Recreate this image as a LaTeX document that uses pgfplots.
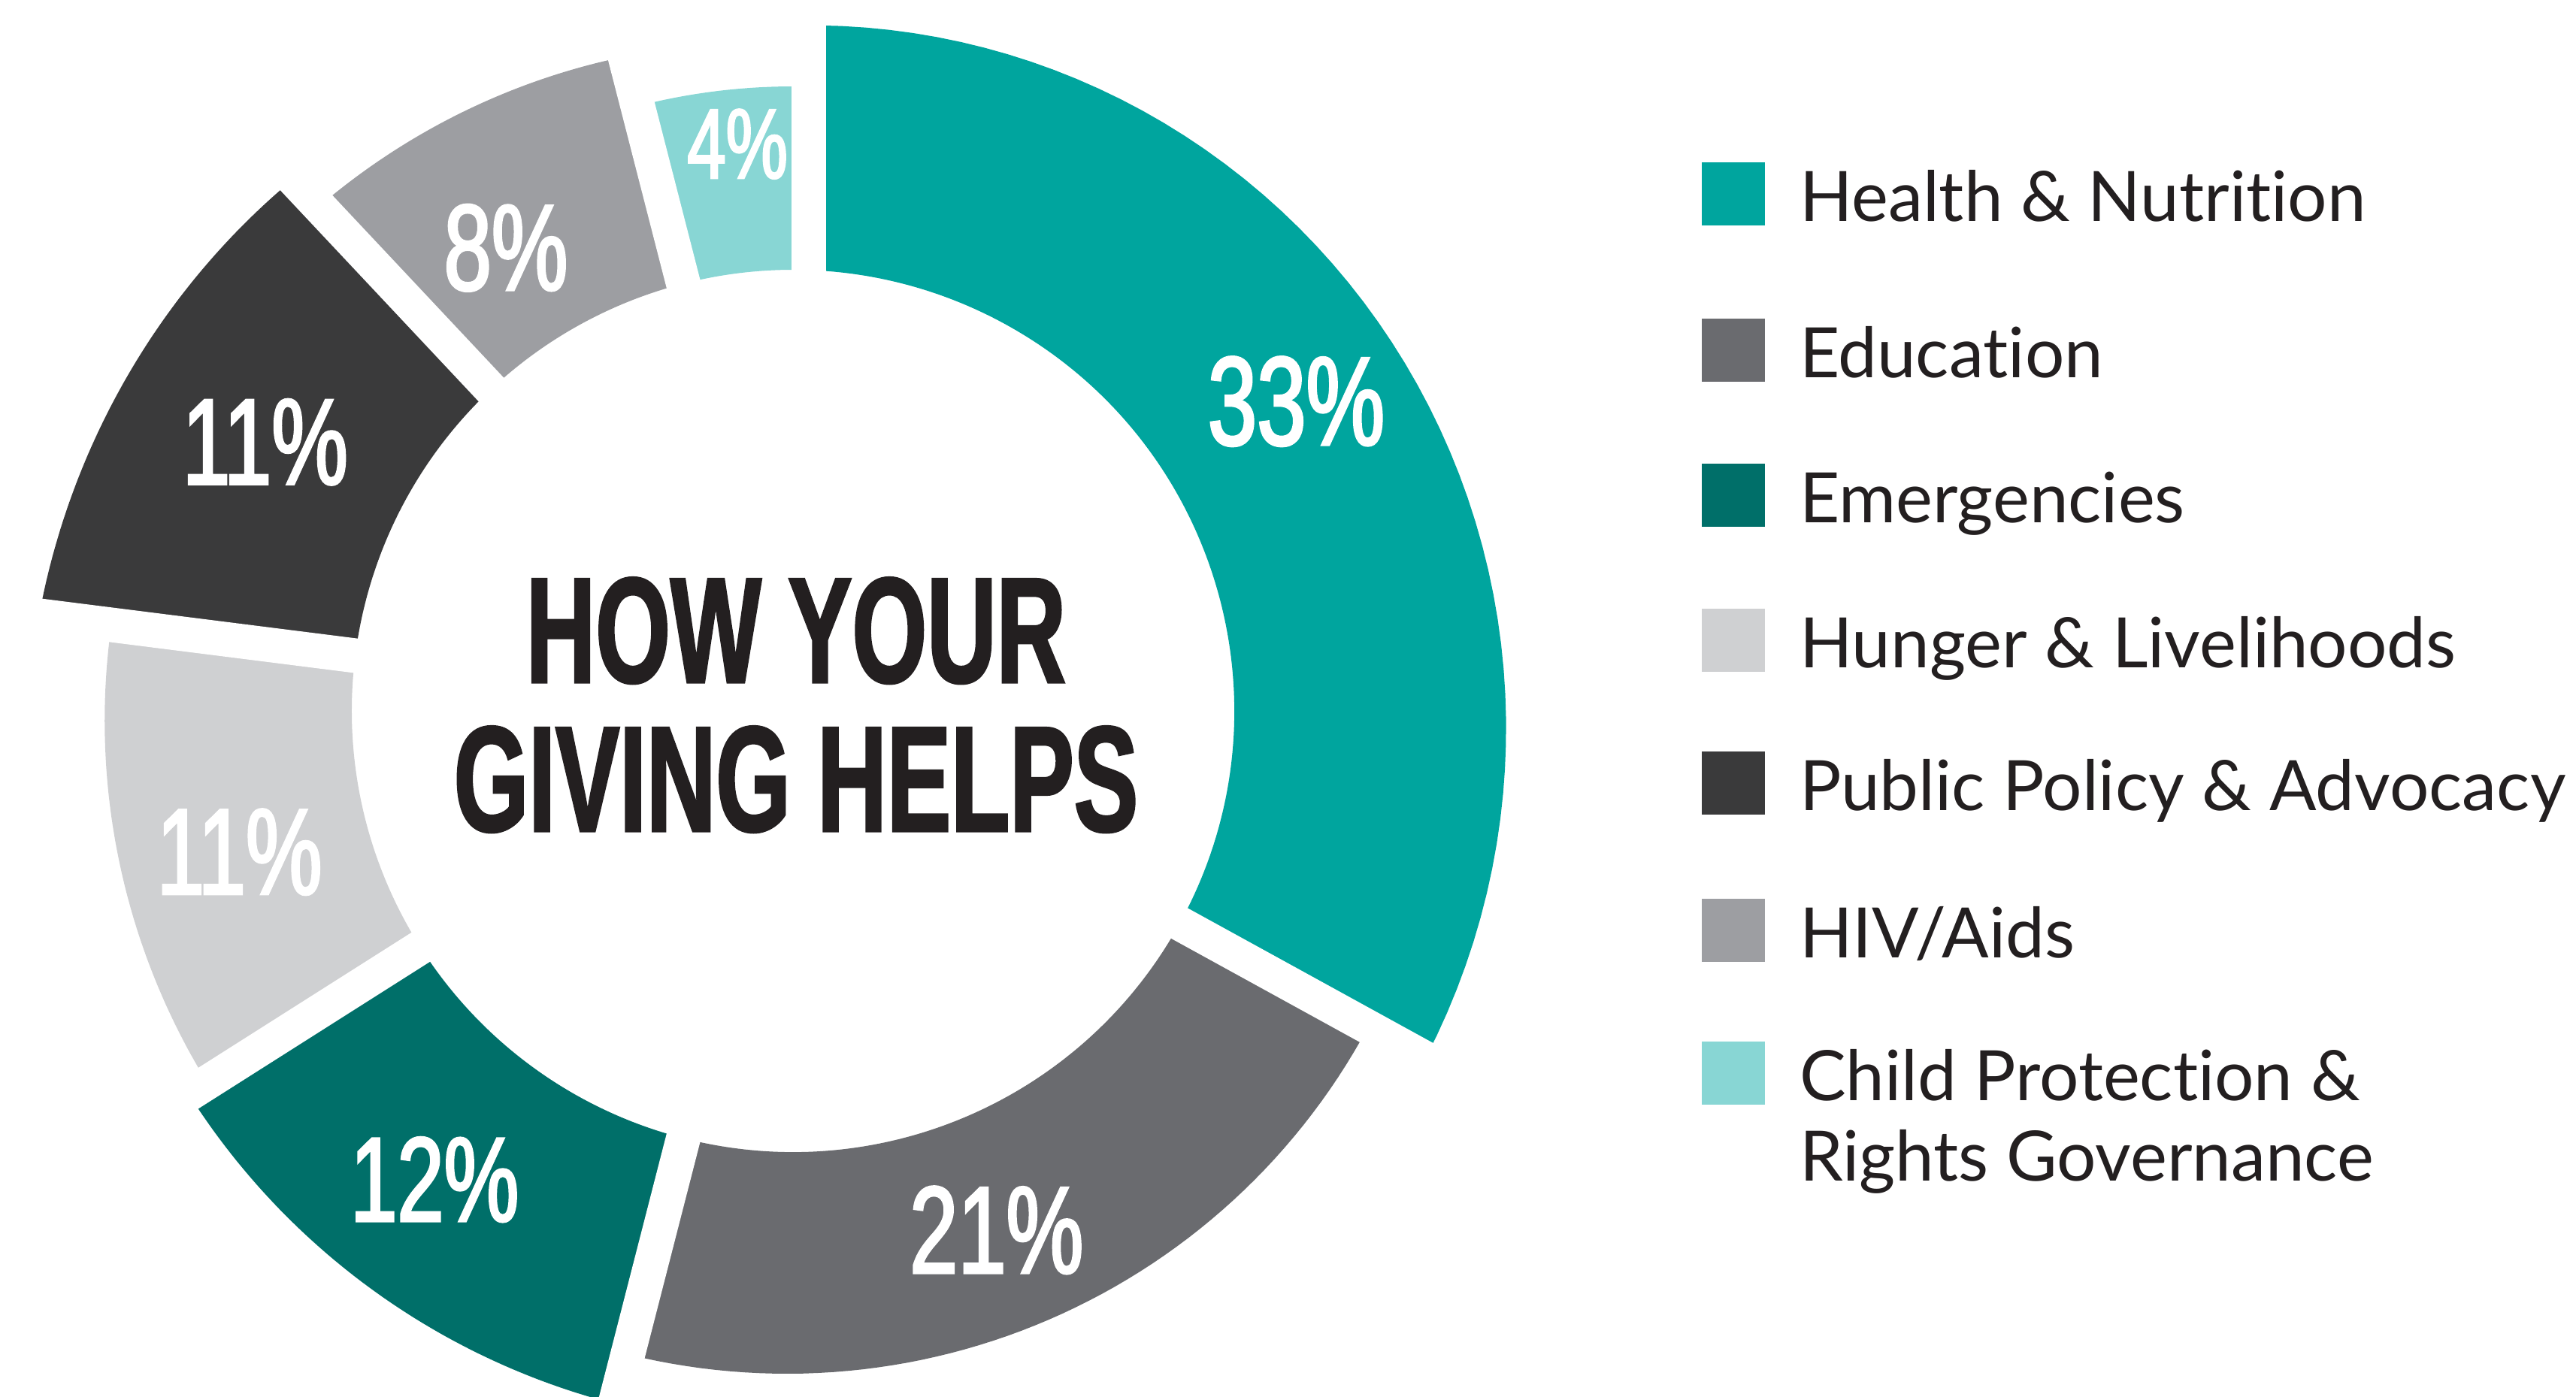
\documentclass[border=0pt]{standalone}
\usepackage{fontspec}
\usepackage{pgfplots}
\pgfplotsset{compat=1.18}
\usepackage{pgfplotstable}
\setmainfont[Ligatures=NoCommon]{Lato}
\newfontfamily\titlefont[FakeStretch=0.64,BoldFeatures={FakeBold=1.5}]{Liberation Sans}
\newfontfamily\pctfont[FakeStretch=0.70,FakeBold=2]{Liberation Sans}

\definecolor{cHealth}{HTML}{00A59E}
\definecolor{cEdu}{HTML}{6A6B6F}
\definecolor{cEmerg}{HTML}{006F69}
\definecolor{cHunger}{HTML}{CFD0D2}
\definecolor{cPolicy}{HTML}{3A3A3B}
\definecolor{cHIV}{HTML}{9D9EA2}
\definecolor{cChild}{HTML}{88D6D4}
\definecolor{ink}{HTML}{231F20}

% share (%), colour, outer radius at start / end of the segment (px),
% label radius (px), label angle offset (deg), label size (pt)
\pgfplotstableread{
value col rstart rend lrad ldel lsize
33 cHealth 912 960 786 1.0 16.8
21 cEdu 873 884 742 -2.0 16.5
12 cEmerg 952 952 785 -1.4 16.0
11 cHunger 923 914 760 1.7 16.3
11 cPolicy 1011 971 788 0.0 16.3
8 cHIV 921 899 725 3.0 16.3
4 cChild 831 831 758 -1.6 13.2
}\donut

\begin{document}
\begin{tikzpicture}
\useasboundingbox (0,0) rectangle (342.7pt,185.8pt);
\begin{axis}[at={(0pt,0pt)}, anchor=south west, scale only axis,
  width=342.7pt, height=185.8pt, xmin=0, xmax=3427, ymin=0, ymax=1858,
  enlargelimits=false, hide axis, clip=false]
\pgfplotsextra{%
 \begin{scope}[shift={(axis cs:1055,912)}, x=0.1pt, y=0.1pt]
  \pgfplotstablegetrowsof{\donut}\pgfmathtruncatemacro{\lastrow}{\pgfplotsretval-1}%
  \gdef\cum{0}%
  \foreach \i in {0,...,\lastrow}{%
    \pgfplotstablegetelem{\i}{value}\of{\donut}\let\segval\pgfplotsretval
    \pgfplotstablegetelem{\i}{col}\of{\donut}\let\segcol\pgfplotsretval
    \pgfplotstablegetelem{\i}{rstart}\of{\donut}\let\rA\pgfplotsretval
    \pgfplotstablegetelem{\i}{rend}\of{\donut}\let\rB\pgfplotsretval
    \pgfmathsetmacro{\aS}{90-3.6*\cum}%
    \pgfmathsetmacro{\aE}{90-3.6*(\cum+\segval)}%
    \fill[\segcol] (\aS:587) -- plot[domain=\aS:\aE, samples=60, variable=\ang]
      (\ang:{\rA+(\rB-\rA)*(\ang-\aS)/(\aE-\aS)}) -- (\aE:587)
      arc[start angle=\aE, end angle=\aS, radius=587] -- cycle;
    \pgfmathsetmacro{\newcum}{\cum+\segval}\xdef\cum{\newcum}%
  }
  \gdef\cum{0}%
  \foreach \i in {0,...,\lastrow}{%
    \pgfplotstablegetelem{\i}{value}\of{\donut}\let\segval\pgfplotsretval
    \pgfmathsetmacro{\aS}{90-3.6*\cum}%
    \pgfmathsetmacro{\gx}{\i==0 ? 2.1 : 0}%
    \draw[white, line width=4.6pt, xshift=\gx pt] (\aS:560) -- (\aS:1150);
    \pgfmathsetmacro{\newcum}{\cum+\segval}\xdef\cum{\newcum}%
  }
  \gdef\cum{0}%
  \foreach \i in {0,...,\lastrow}{%
    \pgfplotstablegetelem{\i}{value}\of{\donut}\let\segval\pgfplotsretval
    \pgfplotstablegetelem{\i}{lrad}\of{\donut}\let\rL\pgfplotsretval
    \pgfplotstablegetelem{\i}{ldel}\of{\donut}\let\dL\pgfplotsretval
    \pgfplotstablegetelem{\i}{lsize}\of{\donut}\let\sL\pgfplotsretval
    \pgfmathsetmacro{\aM}{90-3.6*(\cum+\segval/2)+\dL}%
    \node[text=white, inner sep=0pt, anchor=center] at (\aM:\rL)
      {\fontsize{\sL}{\sL}\pctfont \segval\%};
    \pgfmathsetmacro{\newcum}{\cum+\segval}\xdef\cum{\newcum}%
  }
 \end{scope}}
% centre title
\node[anchor=base, text=ink, inner sep=0pt] at (axis cs:1059,950)
  {\fontsize{20}{20}\titlefont\bfseries HOW YOUR};
\node[anchor=base, text=ink, inner sep=0pt] at (axis cs:1059,752)
  {\fontsize{20}{20}\titlefont\bfseries GIVING HELPS};
% legend
\fill[cHealth] (axis cs:2264,1558) rectangle (axis cs:2348,1642);
\fill[cEdu]    (axis cs:2264,1350) rectangle (axis cs:2348,1434);
\fill[cEmerg]  (axis cs:2264,1157) rectangle (axis cs:2348,1241);
\fill[cHunger] (axis cs:2264,964)  rectangle (axis cs:2348,1048);
\fill[cPolicy] (axis cs:2264,774)  rectangle (axis cs:2348,858);
\fill[cHIV]    (axis cs:2264,578)  rectangle (axis cs:2348,662);
\fill[cChild]  (axis cs:2264,388)  rectangle (axis cs:2348,472);
\begin{scope}[every node/.style={anchor=base west, inner sep=0pt, text=ink, font=\fontsize{9.25}{11}\selectfont}]
\node at (axis cs:2392,1564) {Health \& Nutrition};
\node at (axis cs:2392,1356) {Education};
\node at (axis cs:2392,1163) {Emergencies};
\node at (axis cs:2392,970)  {Hunger \& Livelihoods};
\node at (axis cs:2392,780)  {Public Policy \& Advocacy};
\node at (axis cs:2392,584)  {HIV/Aids};
\node at (axis cs:2392,394)  {Child Protection \&};
\node at (axis cs:2392,287)  {Rights Governance};
\end{scope}
\end{axis}
\end{tikzpicture}
\end{document}
